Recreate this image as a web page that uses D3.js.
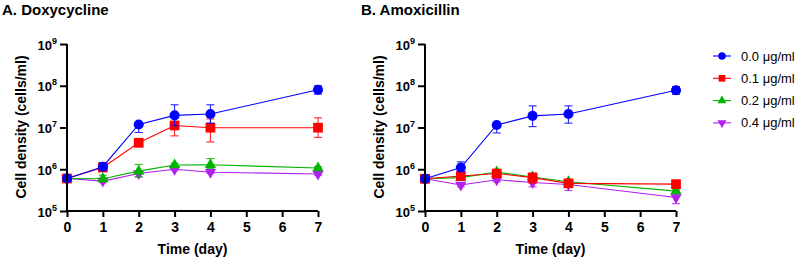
<!DOCTYPE html>
<html><head><meta charset="utf-8">
<script src="https://cdn.jsdelivr.net/npm/d3@7"></script>
<style>body{margin:0;background:#fff}svg{display:block}text{font-family:"Liberation Sans",Arial,sans-serif}</style>
</head><body>
<svg id="c" width="800" height="259"></svg>
<script>
const days = [0,1,2,3,4,7];
const xTicks = [0,1,2,3,4,5,6,7];
const yTickExps = [5,6,7,8,9];
const seriesNames = ["0.0 μg/ml","0.1 μg/ml","0.2 μg/ml","0.4 μg/ml"];
const seriesColors = ["#0000ff","#ff0000","#00b400","#b01ff0"];
const seriesShapes = ["circle","square","triangle","triangleDown"];
const panelTitles = ["A. Doxycycline","B. Amoxicillin"];

// Doxycycline
const doxMean = [
  [6.0e5,1.15e6,1.18e7,1.95e7,2.1e7,8.0e7],
  [6.0e5,1.1e6,4.3e6,1.12e7,9.9e6,9.9e6],
  [6.0e5,5.9e5,9.0e5,1.26e6,1.28e6,1.07e6],
  [6.0e5,5.2e5,7.9e5,1.0e6,8.5e5,7.7e5]
];
const doxHi = [
  [6.0e5,1.45e6,1.3e7,3.5e7,3.5e7,1.0e8],
  [6.0e5,1.3e6,4.6e6,1.25e7,1.6e7,1.7e7],
  [6.0e5,7.2e5,1.3e6,1.4e6,1.8e6,1.15e6],
  [6.0e5,5.6e5,8.5e5,1.05e6,9.0e5,8.2e5]
];
const doxLo = [
  [6.0e5,9.5e5,7.6e6,1.1e7,1.27e7,6.3e7],
  [6.0e5,9.0e5,4.0e6,6.3e6,4.5e6,5.8e6],
  [6.0e5,5.0e5,6.5e5,1.15e6,1.05e6,1.0e6],
  [6.0e5,4.8e5,6.6e5,9.5e5,8.0e5,7.2e5]
];
// Amoxicillin
const amoMean = [
  [5.9e5,1.1e6,1.15e7,1.9e7,2.1e7,7.8e7],
  [5.9e5,6.9e5,7.9e5,6.3e5,4.6e5,4.4e5],
  [5.9e5,6.3e5,8.6e5,6.5e5,5.0e5,3.0e5],
  [5.9e5,4.2e5,5.6e5,4.8e5,4.3e5,2.1e5]
];
const amoHi = [
  [5.9e5,1.5e6,1.25e7,3.3e7,3.3e7,9.5e7],
  [5.9e5,7.5e5,8.6e5,8.1e5,5.1e5,4.6e5],
  [5.9e5,6.8e5,9.2e5,7.0e5,5.3e5,3.2e5],
  [5.9e5,4.6e5,6.0e5,5.5e5,4.8e5,2.6e5]
];
const amoLo = [
  [5.9e5,9.0e5,7.4e6,1.05e7,1.27e7,6.2e7],
  [5.9e5,6.3e5,7.3e5,4.6e5,4.2e5,4.2e5],
  [5.9e5,5.9e5,8.0e5,6.0e5,4.7e5,2.8e5],
  [5.9e5,3.8e5,5.0e5,3.8e5,3.1e5,1.5e5]
];

const svg = d3.select("#c");
const shapeMap = {
  circle: d3.symbol().type(d3.symbolCircle).size(80),
  square: d3.symbol().type(d3.symbolSquare).size(95),
  triangle: d3.symbol().type(d3.symbolTriangle).size(55),
  triangleDown: d3.symbol().type(d3.symbolTriangle).size(55)
};

function drawPanel(ox, title, titleX, means, his, los) {
  const x = d3.scaleLinear().domain([0,7]).range([ox, ox+251]);
  const y = d3.scaleLog().domain([1e5,1e9]).range([211,44]);
  const g = svg.append("g");
  g.append("text").attr("x", titleX).attr("y", 15).attr("font-size", 15).attr("font-weight", "bold").text(title);

  for (let s = 3; s >= 0; s--) {
    const col = seriesColors[s];
    const sg = g.append("g");
    const line = d3.line().x((d,i)=>x(days[i])).y(d=>y(d));
    sg.append("path").attr("d", line(means[s])).attr("fill","none").attr("stroke",col).attr("stroke-width",1.1);
    days.forEach((d,i) => {
      const hi = his[s][i], lo = los[s][i];
      if (hi === lo) return;
      const eg = sg.append("g").attr("stroke", col).attr("stroke-width", 1.1).attr("opacity", 0.85);
      eg.append("line").attr("x1", x(d)).attr("x2", x(d)).attr("y1", y(hi)).attr("y2", y(lo));
      eg.append("line").attr("x1", x(d)-4).attr("x2", x(d)+4).attr("y1", y(hi)).attr("y2", y(hi));
      eg.append("line").attr("x1", x(d)-4).attr("x2", x(d)+4).attr("y1", y(lo)).attr("y2", y(lo));
    });
    days.forEach((d,i) => {
      const rot = seriesShapes[s] === "triangleDown" ? " rotate(180)" : "";
      sg.append("path").attr("d", shapeMap[seriesShapes[s]]())
        .attr("transform", `translate(${x(d)},${y(means[s][i])})${rot}`)
        .attr("fill", col);
    });
  }

  const xa = g.append("g").attr("transform", "translate(0,211)")
    .call(d3.axisBottom(x).tickValues(xTicks).tickSize(6).tickPadding(5).tickFormat(d3.format("d")));
  xa.select(".domain").attr("stroke-width", 2).attr("d", `M${ox},0H${ox+251}`);
  xa.selectAll(".tick line").attr("stroke-width", 2);
  xa.selectAll(".tick text").attr("font-size", 14).attr("font-weight", "bold").attr("font-family", "Liberation Sans, Arial, sans-serif").attr("fill","#000");

  const ya = g.append("g").attr("transform", `translate(${ox},0)`)
    .call(d3.axisLeft(y).tickValues(yTickExps.map(e=>Math.pow(10,e))).tickSize(7).tickFormat(""));
  ya.select(".domain").attr("stroke-width", 2).attr("d", "M0,44V212");
  ya.selectAll(".tick line").attr("stroke-width", 2);
  ya.selectAll(".tick").each(function(v, i) {
    const t = d3.select(this).append("text").attr("x", -10).attr("y", 5)
      .attr("text-anchor", "end").attr("font-size", 13).attr("font-weight", "bold").attr("fill", "#000");
    t.append("tspan").text("10");
    t.append("tspan").attr("font-size", 9).attr("dy", -6).text(yTickExps[i]);
  });

  g.append("text").attr("x", (ox + ox+251)/2).attr("y", 254).attr("text-anchor","middle")
    .attr("font-size", 14).attr("font-weight","bold").text("Time (day)");
  g.append("text").attr("transform", `translate(${ox-41},127) rotate(-90)`).attr("text-anchor","middle")
    .attr("font-size", 14).attr("font-weight","bold").text("Cell density (cells/ml)");
}

drawPanel(67, panelTitles[0], 2, doxMean, doxHi, doxLo);
drawPanel(425, panelTitles[1], 361, amoMean, amoHi, amoLo);

const lg = svg.append("g");
seriesNames.forEach((n, i) => {
  const yy = 56 + i*22.3;
  lg.append("line").attr("x1", 713).attr("x2", 731).attr("y1", yy).attr("y2", yy).attr("stroke", seriesColors[i]).attr("stroke-width", 1.1);
  const rot = seriesShapes[i] === "triangleDown" ? " rotate(180)" : "";
  const sym = d3.symbol().type(seriesShapes[i]==="circle"?d3.symbolCircle:seriesShapes[i]==="square"?d3.symbolSquare:d3.symbolTriangle).size(seriesShapes[i]==="circle"?45:seriesShapes[i]==="square"?45:35);
  lg.append("path").attr("d", sym()).attr("transform", `translate(722,${yy})${rot}`).attr("fill", seriesColors[i]);
  lg.append("text").attr("x", 741).attr("y", yy+4.5).attr("font-size", 13).text(n);
});
</script>
</body></html>
